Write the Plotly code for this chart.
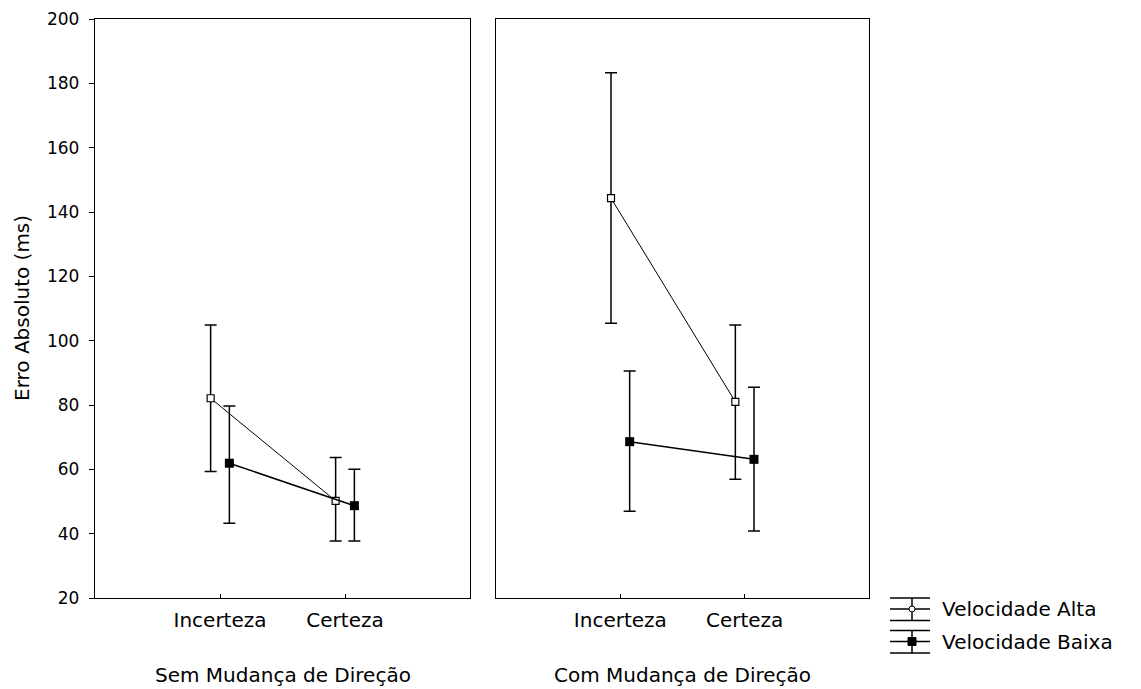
import plotly.graph_objects as go

# Conditions and groups
condicoes = ["Incerteza", "Certeza"]
paineis = ["Sem Mudança de Direção", "Com Mudança de Direção"]
series = ["Velocidade Alta", "Velocidade Baixa"]

# Means and confidence limits (ms), per panel
sem_alta_media = [82.1, 50.2]
sem_alta_sup = [104.9, 63.7]
sem_alta_inf = [59.3, 37.7]
sem_baixa_media = [61.9, 48.7]
sem_baixa_sup = [79.7, 60.0]
sem_baixa_inf = [43.2, 37.7]

com_alta_media = [144.3, 81.0]
com_alta_sup = [183.3, 104.9]
com_alta_inf = [105.4, 56.9]
com_baixa_media = [68.6, 63.1]
com_baixa_sup = [90.6, 85.5]
com_baixa_inf = [47.0, 40.8]

y_ticks = [20, 40, 60, 80, 100, 120, 140, 160, 180, 200]

W, H = 1141, 689
FONT = "DejaVu Sans"


def px(x):
    return x / W


def py(y):
    return 1 - y / H


fig = go.Figure()

dados = [
    ("x", "y", sem_alta_media, sem_alta_sup, sem_alta_inf, sem_baixa_media, sem_baixa_sup, sem_baixa_inf),
    ("x2", "y2", com_alta_media, com_alta_sup, com_alta_inf, com_baixa_media, com_baixa_sup, com_baixa_inf),
]
pos = list(range(len(condicoes)))
desloc = 0.075

for xa, ya, am, asup, ainf, bm, bsup, binf in dados:
    fig.add_trace(go.Scatter(
        x=[p - desloc for p in pos], y=am, xaxis=xa, yaxis=ya,
        mode="lines+markers", name=series[0], showlegend=False,
        line=dict(color="black", width=1),
        marker=dict(symbol="square", size=7, color="white", line=dict(color="black", width=1.2)),
        error_y=dict(type="data", symmetric=False,
                     array=[s - m for s, m in zip(asup, am)],
                     arrayminus=[m - i for m, i in zip(am, ainf)],
                     color="black", thickness=1.5, width=6),
    ))
    fig.add_trace(go.Scatter(
        x=[p + desloc for p in pos], y=bm, xaxis=xa, yaxis=ya,
        mode="lines+markers", name=series[1], showlegend=False,
        line=dict(color="black", width=1.5),
        marker=dict(symbol="square", size=9, color="black", line=dict(color="black", width=0)),
        error_y=dict(type="data", symmetric=False,
                     array=[s - m for s, m in zip(bsup, bm)],
                     arrayminus=[m - i for m, i in zip(bm, binf)],
                     color="black", thickness=1.5, width=6),
    ))

ydom = [py(598), py(19)]
xcomum = dict(range=[-1, 2], tickvals=pos, ticktext=condicoes, ticks="inside", ticklen=4,
              tickcolor="black", showline=True, linecolor="black", linewidth=1.3, mirror=True,
              showgrid=False, zeroline=False, tickfont=dict(family=FONT, size=20, color="black"),
              ticklabelstandoff=4, automargin=False)
ycomum = dict(range=[20, 200], tickvals=y_ticks, showline=True, linecolor="black", linewidth=1.3,
              mirror=True, showgrid=False, zeroline=False, domain=ydom, automargin=False)

fig.update_layout(
    width=W, height=H,
    margin=dict(l=0, r=0, t=0, b=0, autoexpand=False),
    paper_bgcolor="white", plot_bgcolor="white",
    showlegend=False,
    xaxis=dict(domain=[px(95), px(470)], anchor="y", **xcomum),
    xaxis2=dict(domain=[px(496), px(869)], anchor="y2", **xcomum),
    yaxis=dict(anchor="x", ticks="outside", ticklen=5, tickcolor="black",
               tickfont=dict(family=FONT, size=17, color="black"), ticklabelstandoff=6, **ycomum),
    yaxis2=dict(anchor="x2", ticks="", showticklabels=False, **ycomum),
)

anot = dict(showarrow=False, font=dict(family=FONT, size=20, color="black"),
            xref="paper", yref="paper")
fig.add_annotation(text=paineis[0], x=px(282.5), y=py(675), xanchor="center", yanchor="middle", **anot)
fig.add_annotation(text=paineis[1], x=px(682.5), y=py(675), xanchor="center", yanchor="middle", **anot)
fig.add_annotation(text="Erro Absoluto (ms)", x=px(22), y=py(308), textangle=-90,
                   xanchor="center", yanchor="middle", **anot)

# Legend with error-bar style icons
linha = dict(color="black", width=1.5)
for i, (nome, cheio) in enumerate(zip(series, [False, True])):
    yc = 609 + i * 32.5
    ytop, ybot = yc - 11, yc + 11.5
    for yy in (ytop, yc, ybot):
        fig.add_shape(type="line", xref="paper", yref="paper",
                      x0=px(890), x1=px(930), y0=py(yy), y1=py(yy), line=linha)
    fig.add_shape(type="line", xref="paper", yref="paper",
                  x0=px(912), x1=px(912), y0=py(ytop), y1=py(ybot), line=linha)
    if cheio:
        fig.add_shape(type="rect", xref="paper", yref="paper",
                      x0=px(908), x1=px(916), y0=py(yc - 4), y1=py(yc + 4),
                      fillcolor="black", line=dict(color="black", width=1))
    else:
        fig.add_shape(type="circle", xref="paper", yref="paper",
                      x0=px(909), x1=px(915), y0=py(yc - 3), y1=py(yc + 3),
                      fillcolor="white", line=dict(color="black", width=1))
    fig.add_annotation(text=nome, x=px(940), y=py(yc), xanchor="left", yanchor="middle", **anot)

fig.write_html("out.html")
